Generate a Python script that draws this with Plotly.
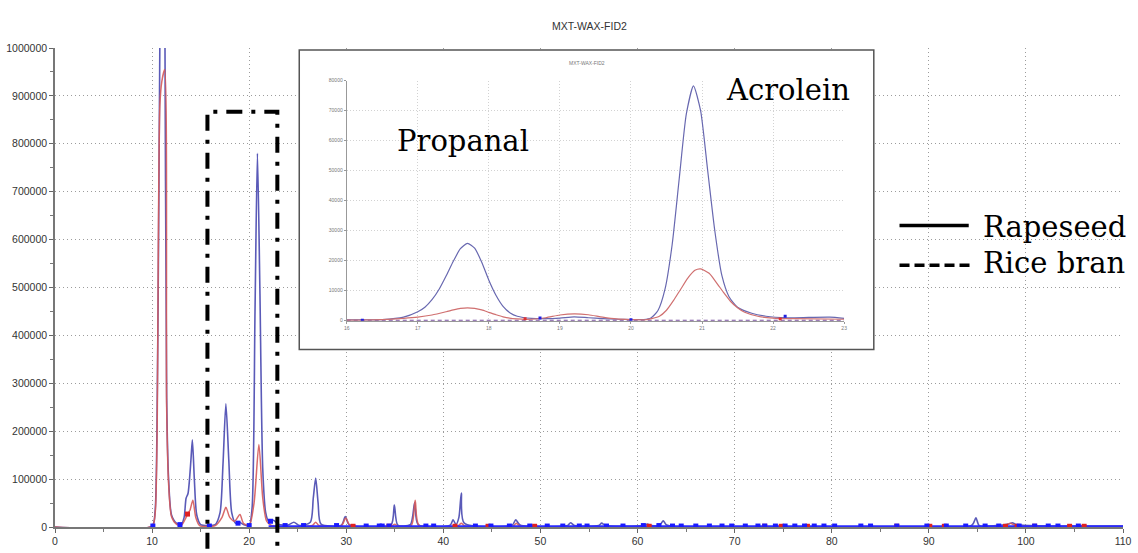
import plotly.graph_objects as go

# ---------------- main chromatogram data ----------------
rape_t = [0, 10.0, 10.3, 10.5, 10.7, 10.9, 11.1, 11.3, 11.5, 11.7, 12.0, 12.5, 13.0,
          13.3, 13.5, 13.7, 14.0, 14.15, 14.35, 14.6, 15.0, 15.8, 16.5, 17.0, 17.3,
          17.6, 17.9, 18.2, 18.6, 19.0, 19.4, 20.0, 20.3, 20.6, 20.85, 21.1, 21.4,
          21.7, 22.0, 22.5, 23.0, 24.0, 24.6, 25.2, 26.3, 26.6, 26.85, 27.1, 27.4,
          29.5, 29.9, 30.3, 34.6, 34.95, 35.3, 36.6, 37.05, 37.4, 40.7, 41.0, 41.3,
          41.6, 41.85, 42.15, 47.1, 47.45, 47.9, 52.8, 53.1, 53.5, 56.0, 56.3, 56.7,
          60.6, 61.0, 61.4, 62.3, 62.65, 63.0, 94.4, 94.85, 95.2, 98.2, 98.6, 99.0, 110]
rape_v = [0, 2000, 30000, 200000, 700000, 1300000, 1600000, 1150000, 270000, 100000,
          25000, 8000, 5000, 20000, 60000, 70000, 140000, 182000, 100000, 25000, 5000,
          3000, 5000, 30000, 130000, 257000, 140000, 30000, 8000, 10000, 5000, 3000,
          40000, 450000, 780000, 500000, 120000, 30000, 12000, 14000, 6000, 4000,
          10000, 3000, 10000, 60000, 102000, 50000, 6000, 4000, 22000, 5000, 4000,
          46000, 4000, 5000, 51000, 5000, 4000, 15000, 5000, 20000, 71000, 8000, 4000,
          15000, 4000, 3000, 9000, 3000, 3000, 8000, 3000, 3000, 6000, 3000, 4000,
          13000, 4000, 3000, 19000, 3000, 6000, 9000, 5000, 2000]

rice_t = [0, 10.0, 10.3, 10.5, 10.8, 11.0, 11.3, 11.5, 11.7, 12.0, 12.5, 13.0, 13.5,
          13.65, 13.9, 14.2, 14.5, 14.9, 16.5, 17.2, 17.6, 18.0, 18.5, 19.05, 19.4,
          20.0, 20.5, 21.0, 21.4, 21.8, 22.3, 26.5, 26.85, 27.2, 29.5, 29.95, 30.4,
          34.7, 35.0, 35.3, 36.7, 37.1, 37.5, 41.5, 41.85, 42.2, 47.2, 47.5, 47.9,
          97.8, 98.4, 98.9, 110]
rice_v = [0, 2000, 25000, 170000, 880000, 930000, 955000, 250000, 90000, 22000, 6000,
          3000, 20000, 27000, 35000, 56000, 20000, 3000, 3000, 20000, 41000, 20000,
          12000, 26000, 8000, 3000, 50000, 172000, 60000, 12000, 3000, 3000, 10000,
          3000, 3000, 19000, 3000, 2000, 6000, 2000, 3000, 56000, 3000, 2000, 8000,
          2000, 2000, 8000, 2000, 3000, 8000, 3000, 1000]

baseline_t = [22, 110]
baseline_v = [1500, 1500]

blue_mark_t = [10.08, 12.87, 15.9, 18.85, 20.0, 22.2, 23.7, 25.6, 29.0, 32.05, 33.4,
               33.7, 34.4, 38.2, 39.0, 43.3, 44.9, 46.8, 48.9, 50.7, 52.3, 54.0, 54.8,
               56.8, 58.5, 60.6, 62.2, 63.6, 64.5, 66.0, 67.4, 68.7, 69.7, 71.1, 72.4,
               73.1, 74.2, 75.2, 76.2, 77.2, 78.2, 79.2, 80.3, 83.0, 84.0, 86.7, 89.8,
               91.8, 93.8, 95.8, 97.2, 99.3, 100.9, 102.3, 103.3, 105.4]
blue_mark_v = [2000, 5000, 2000, 8000, 3000, 12000, 3000, 3000, 3000, 2000, 2000,
               2000, 2000, 2000, 2000, 2000, 2000, 2000, 2000, 2000, 2000, 2000, 2000,
               2000, 2000, 3000, 3000, 2000, 2000, 2000, 2000, 2000, 2000, 2000, 2000,
               2000, 2000, 2000, 2000, 2000, 2000, 2000, 2000, 2000, 2000, 2000, 2000,
               2000, 2000, 2000, 2000, 2000, 2000, 2000, 2000, 2000]
red_mark_t = [13.65, 30.7, 34.4, 41.2, 44.6, 49.4, 61.2, 73.1, 74.8, 77.5, 86.7,
              90.1, 91.6, 97.9, 99.1, 100.9, 104.5, 106.0]
red_mark_v = [27000, 1500, 1500, 1500, 1500, 1500, 1500, 1500, 1500, 1500, 1500,
              1500, 1500, 1500, 1500, 1500, 1500, 1500]

# ---------------- inset (16-23 min) data ----------------
in_rape_t = [16.0, 16.5, 16.8, 17.0, 17.1, 17.2, 17.3, 17.4, 17.5, 17.6, 17.7, 17.8,
             17.9, 18.0, 18.1, 18.2, 18.3, 18.4, 18.6, 18.8, 19.0, 19.2, 19.4, 19.6,
             19.8, 20.0, 20.18, 20.28, 20.38, 20.48, 20.58, 20.68, 20.78, 20.88, 20.98,
             21.08, 21.18, 21.28, 21.38, 21.5, 21.7, 21.9, 22.2, 22.5, 22.8, 23.0]
in_rape_v = [300, 400, 1200, 3000, 4500, 7000, 10500, 15000, 19800, 24000, 25800,
             24200, 19500, 13500, 8500, 4800, 2600, 1500, 800, 700, 900, 1300, 1000,
             700, 500, 400, 400, 900, 3400, 10600, 25400, 47500, 69000, 78300, 70000,
             50000, 30000, 15000, 8000, 4500, 2500, 1500, 1000, 1100, 1200, 800]
in_rice_t = [16.0, 16.5, 16.8, 17.0, 17.2, 17.4, 17.5, 17.6, 17.7, 17.8, 17.9, 18.0,
             18.1, 18.2, 18.4, 18.6, 18.8, 19.0, 19.2, 19.4, 19.6, 19.8, 20.0, 20.2,
             20.4, 20.5, 20.6, 20.7, 20.8, 20.9, 20.98, 21.1, 21.2, 21.3, 21.4, 21.5,
             21.6, 21.8, 22.0, 22.3, 23.0]
in_rice_v = [200, 400, 800, 1200, 1900, 3000, 3600, 4100, 4300, 4100, 3600, 2800,
             2000, 1300, 600, 500, 1000, 1900, 2300, 2000, 1200, 600, 400, 300, 1500,
             3500, 6800, 10500, 14200, 16800, 17300, 15800, 12800, 9500, 6500, 4300,
             2800, 1400, 900, 700, 500]
in_base_t = [16, 23]
in_base_v = [150, 150]
in_blue_mark_t = [16.22, 18.72, 20.0, 22.17]
in_blue_mark_v = [200, 900, 300, 1500]
in_red_mark_t = [18.51, 22.1]
in_red_mark_v = [700, 600]

x_ticks = list(range(0, 111, 10))
y_ticks = list(range(0, 1000001, 100000))
in_x_ticks = list(range(16, 24))
in_y_ticks = list(range(0, 80001, 10000))

BLUE = "#5a5ab8"
RED = "#d65a5a"

fig = go.Figure()

# main traces
fig.add_trace(go.Scatter(x=rape_t, y=rape_v, mode="lines",
                         line=dict(color=BLUE, width=1.6, shape="spline", smoothing=0.7),
                         name="Rapeseed"))
fig.add_trace(go.Scatter(x=rice_t, y=rice_v, mode="lines", opacity=0.9,
                         line=dict(color=RED, width=1.5, shape="spline", smoothing=0.7),
                         name="Rice bran"))
fig.add_trace(go.Scatter(x=baseline_t, y=baseline_v, mode="lines",
                         line=dict(color="#2a2aff", width=2)))
fig.add_trace(go.Scatter(x=red_mark_t, y=red_mark_v, mode="markers",
                         marker=dict(symbol="square", size=5, color="#e02020")))
fig.add_trace(go.Scatter(x=blue_mark_t, y=blue_mark_v, mode="markers",
                         marker=dict(symbol="square", size=5, color="#1a1aff")))

# blocker subplot (white box behind inset)
fig.add_trace(go.Scatter(x=[0], y=[0], mode="markers", marker=dict(opacity=0),
                         xaxis="x2", yaxis="y2", hoverinfo="skip"))

# inset traces
fig.add_trace(go.Scatter(x=in_base_t, y=in_base_v, mode="lines", xaxis="x3", yaxis="y3",
                         line=dict(color="#7a50a0", width=1.2, dash="4px,3px")))
fig.add_trace(go.Scatter(x=in_rape_t, y=in_rape_v, mode="lines", xaxis="x3", yaxis="y3",
                         line=dict(color="#6868b0", width=1.2, shape="spline", smoothing=0.6)))
fig.add_trace(go.Scatter(x=in_rice_t, y=in_rice_v, mode="lines", xaxis="x3", yaxis="y3",
                         line=dict(color="#d07070", width=1.2, shape="spline", smoothing=0.6)))
fig.add_trace(go.Scatter(x=in_blue_mark_t, y=in_blue_mark_v, mode="markers", xaxis="x3", yaxis="y3",
                         marker=dict(symbol="square", size=3, color="#2020e0")))
fig.add_trace(go.Scatter(x=in_red_mark_t, y=in_red_mark_v, mode="markers", xaxis="x3", yaxis="y3",
                         marker=dict(symbol="square", size=3, color="#e03030")))

axis_font = dict(family="Liberation Sans, Arial, sans-serif", size=10.5, color="#333")
tiny_font = dict(family="Liberation Sans, Arial, sans-serif", size=5, color="#777")

W, H = 1138, 553
ML, MR, MT, MB = 52, 6, 48, 22
PW, PH = W - ML - MR, H - MT - MB


def px_x(p):
    return (p - ML) / PW


def px_y(p):
    return (H - MB - p) / PH


grid_kw = dict(showgrid=True, gridcolor="#9c9c9c", griddash="1px,3px", gridwidth=1.4)

fig.update_layout(
    width=W, height=H, autosize=False,
    margin=dict(l=ML, r=MR, t=MT, b=MB, pad=0),
    paper_bgcolor="white", plot_bgcolor="white",
    showlegend=False,
    xaxis=dict(range=[0, 110], tickvals=x_ticks, ticktext=[str(v) for v in x_ticks],
               zeroline=False, showline=True, linecolor="#777", linewidth=1.5,
               ticks="outside", ticklen=4, tickcolor="#666", tickfont=axis_font,
               minor=dict(dtick=5, ticks="outside", ticklen=3, tickcolor="#777", showgrid=False),
               **grid_kw),
    yaxis=dict(range=[0, 1000000], tickvals=y_ticks, ticktext=[str(v) for v in y_ticks],
               zeroline=False, showline=True, linecolor="#777", linewidth=1.5,
               ticks="outside", ticklen=4, tickcolor="#666", tickfont=axis_font,
               minor=dict(dtick=50000, ticks="outside", ticklen=3, tickcolor="#777", showgrid=False),
               **grid_kw),
    xaxis2=dict(domain=[px_x(299), px_x(880)], range=[0, 1], visible=False, anchor="y2"),
    yaxis2=dict(domain=[px_y(352), px_y(50)], range=[0, 1], visible=False, anchor="x2"),
    xaxis3=dict(domain=[px_x(347), px_x(850)], range=[16, 23], anchor="y3",
                tickvals=in_x_ticks, ticktext=[str(v) for v in in_x_ticks],
                showgrid=True, gridcolor="#d2d2d2", griddash="1px,2px", gridwidth=1,
                zeroline=False, showline=True, linecolor="#999", linewidth=1,
                ticks="outside", ticklen=2, tickcolor="#999", tickfont=tiny_font),
    yaxis3=dict(domain=[px_y(323), px_y(81)], range=[0, 80000], anchor="x3",
                tickvals=in_y_ticks, ticktext=[str(v) for v in in_y_ticks],
                showgrid=True, gridcolor="#d2d2d2", griddash="1px,2px", gridwidth=1,
                zeroline=False, showline=True, linecolor="#999", linewidth=1,
                ticks="outside", ticklen=2, tickcolor="#999", tickfont=tiny_font),
)

# dash-dot highlight box (open at the bottom)
box_left, box_right, box_top = 15.7, 22.9, 867000
fig.add_shape(type="path", xref="paper", yref="paper",
              path=f"M {box_left/110} {px_y(553)} L {box_left/110} {box_top/1e6} "
                   f"L {box_right/110} {box_top/1e6} L {box_right/110} {px_y(553)}",
              line=dict(color="black", width=4, dash="16px,9px,4px,9px"), layer="above")

# inset border
fig.add_shape(type="rect", xref="paper", yref="paper",
              x0=px_x(299), x1=px_x(880), y0=px_y(352), y1=px_y(50),
              line=dict(color="#555", width=1.5), fillcolor="rgba(0,0,0,0)", layer="above")

# legend lines
fig.add_shape(type="line", xref="paper", yref="paper",
              x0=px_x(906), x1=px_x(976), y0=px_y(227), y1=px_y(227),
              line=dict(color="black", width=3.5))
fig.add_shape(type="line", xref="paper", yref="paper",
              x0=px_x(906), x1=px_x(978), y0=px_y(267), y1=px_y(267),
              line=dict(color="black", width=3.5, dash="10px,5px"))

serif = dict(family="DejaVu Serif, Liberation Serif, serif", size=29, color="black")
annotations = [
    dict(text="MXT-WAX-FID2", xref="paper", yref="paper", x=0.5, y=px_y(18),
         showarrow=False, font=dict(family="Liberation Sans, Arial, sans-serif", size=10.5, color="#333")),
    dict(text="MXT-WAX-FID2", xref="paper", yref="paper", x=px_x(590), y=px_y(58),
         showarrow=False, font=dict(family="Liberation Sans, Arial, sans-serif", size=5, color="#777")),
    dict(text="Rapeseed", xref="paper", yref="paper", x=px_x(988), y=px_y(228),
         xanchor="left", yanchor="middle", showarrow=False, font=serif),
    dict(text="Rice bran", xref="paper", yref="paper", x=px_x(988), y=px_y(265),
         xanchor="left", yanchor="middle", showarrow=False, font=serif),
    dict(text="Propanal", xref="paper", yref="paper", x=px_x(465), y=px_y(142),
         xanchor="center", yanchor="middle", showarrow=False, font=serif),
    dict(text="Acrolein", xref="paper", yref="paper", x=px_x(793), y=px_y(90),
         xanchor="center", yanchor="middle", showarrow=False, font=serif),
]
fig.update_layout(annotations=annotations)

fig.write_html("out.html")
